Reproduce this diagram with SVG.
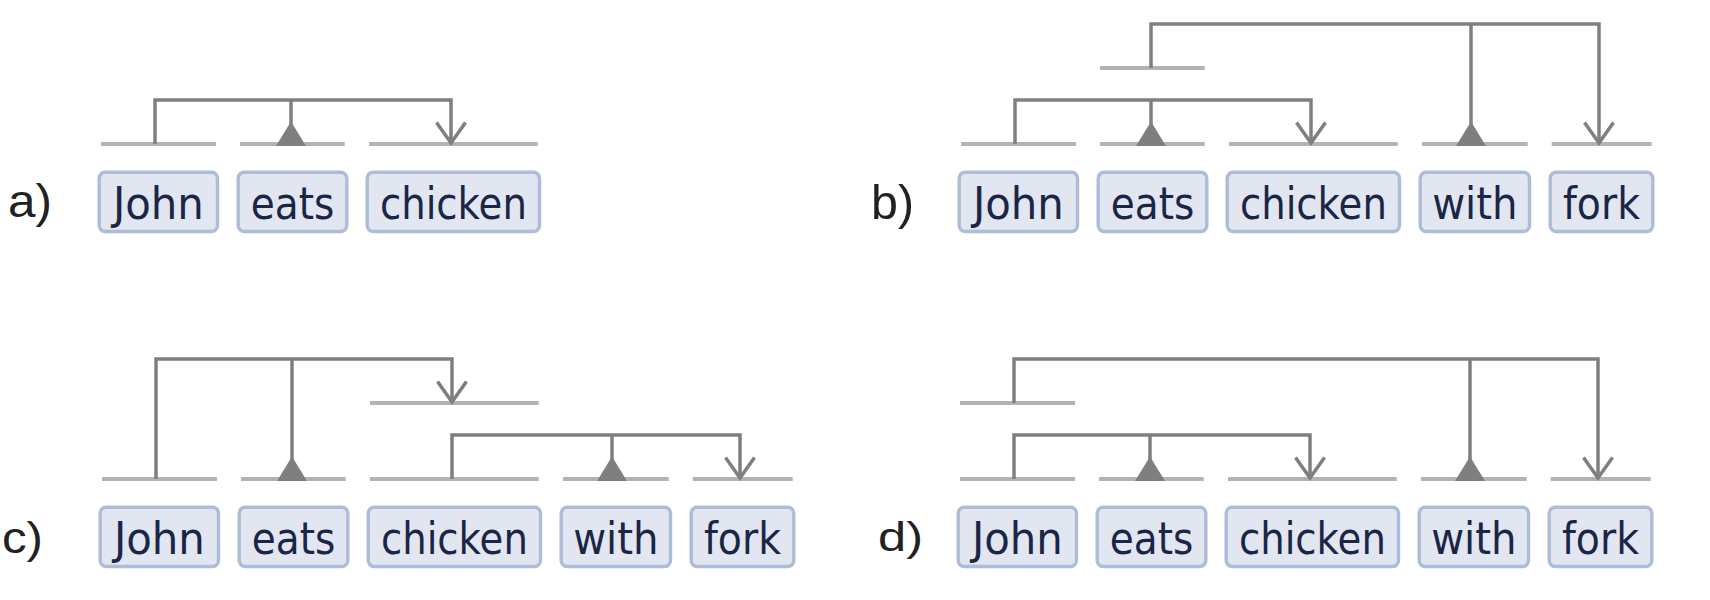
<svg xmlns="http://www.w3.org/2000/svg" xmlns:xlink="http://www.w3.org/1999/xlink" width="1710" height="600" viewBox="0 0 1710 600">
  <style>
    .box { fill: #e1e6f1; stroke: #adbdd8; stroke-width: 3.4; }
    .word { font-family: "DejaVu Sans", Verdana, sans-serif; font-size: 44px; fill: #1b2647; text-anchor: middle; }
    .lbl { font-family: "Liberation Sans", Arial, sans-serif; fill: #222222; }
    .slot { stroke: #b3b3b3; stroke-width: 4; fill: none; }
    .conn { stroke: #7f7f7f; stroke-width: 3.5; fill: none; stroke-linejoin: miter; stroke-linecap: butt; }
    .tri { fill: #7f7f7f; }
  </style>
  <defs>
    <path id="tri" class="tri" d="M-15,2 L0,-22.5 L15,2 Z"/>
    <path id="arr" class="conn" d="M-14.5,-20.5 L0,0 L14.5,-20.5"/>
  </defs>
  <rect width="1710" height="600" fill="#ffffff"/>

  <!-- panel labels -->
  <text class="lbl" x="8" y="217" font-size="46" textLength="44" lengthAdjust="spacingAndGlyphs">a)</text>
  <text class="lbl" x="871" y="218.5" font-size="48" textLength="43" lengthAdjust="spacingAndGlyphs">b)</text>
  <text class="lbl" x="2" y="552.5" font-size="44.5" textLength="41" lengthAdjust="spacingAndGlyphs">c)</text>
  <text class="lbl" x="878" y="551" font-size="41" textLength="45" lengthAdjust="spacingAndGlyphs">d)</text>

  <!-- nodes -->
  <g id="nodes">
    <g id="panel-a" transform="translate(0,0)">
      <g id="a-john"><line class="slot" x1="101" y1="144" x2="216" y2="144"/><rect class="box" x="99.2" y="172.3" width="118.3" height="59.2" rx="6"/><text class="word" x="158.4" y="219.3" textLength="91" lengthAdjust="spacingAndGlyphs">John</text></g>
      <g id="a-eats"><line class="slot" x1="240" y1="144" x2="344.7" y2="144"/><rect class="box" x="238.2" y="172.3" width="108.6" height="59.2" rx="6"/><text class="word" x="292.5" y="219.3" textLength="83.5" lengthAdjust="spacingAndGlyphs">eats</text></g>
      <g id="a-chicken"><line class="slot" x1="369" y1="144" x2="537.7" y2="144"/><rect class="box" x="367.2" y="172.3" width="172.3" height="59.2" rx="6"/><text class="word" x="453.4" y="219.3" textLength="147" lengthAdjust="spacingAndGlyphs">chicken</text></g>
    </g>
    <g id="panel-b" transform="translate(860,0)">
      <g id="b-john"><line class="slot" x1="101" y1="144" x2="216" y2="144"/><rect class="box" x="99.2" y="172.3" width="118.3" height="59.2" rx="6"/><text class="word" x="158.4" y="219.3" textLength="91" lengthAdjust="spacingAndGlyphs">John</text></g>
      <g id="b-eats"><line class="slot" x1="240" y1="144" x2="344.7" y2="144"/><rect class="box" x="238.2" y="172.3" width="108.6" height="59.2" rx="6"/><text class="word" x="292.5" y="219.3" textLength="83.5" lengthAdjust="spacingAndGlyphs">eats</text></g>
      <g id="b-chicken"><line class="slot" x1="369" y1="144" x2="537.7" y2="144"/><rect class="box" x="367.2" y="172.3" width="172.3" height="59.2" rx="6"/><text class="word" x="453.4" y="219.3" textLength="147" lengthAdjust="spacingAndGlyphs">chicken</text></g>
      <g id="b-with"><line class="slot" x1="562" y1="144" x2="667.7" y2="144"/><rect class="box" x="560.2" y="172.3" width="109.3" height="59.2" rx="6"/><text class="word" x="614.9" y="219.3" textLength="85.5" lengthAdjust="spacingAndGlyphs">with</text></g>
      <g id="b-fork"><line class="slot" x1="691.7" y1="144" x2="791.7" y2="144"/><rect class="box" x="690.2" y="172.3" width="102.6" height="59.2" rx="6"/><text class="word" x="741.5" y="219.3" textLength="77" lengthAdjust="spacingAndGlyphs">fork</text></g>
    </g>
    <g id="panel-c" transform="translate(1,335)">
      <g id="c-john"><line class="slot" x1="101" y1="144" x2="216" y2="144"/><rect class="box" x="99.2" y="172.3" width="118.3" height="59.2" rx="6"/><text class="word" x="158.4" y="219.3" textLength="91" lengthAdjust="spacingAndGlyphs">John</text></g>
      <g id="c-eats"><line class="slot" x1="240" y1="144" x2="344.7" y2="144"/><rect class="box" x="238.2" y="172.3" width="108.6" height="59.2" rx="6"/><text class="word" x="292.5" y="219.3" textLength="83.5" lengthAdjust="spacingAndGlyphs">eats</text></g>
      <g id="c-chicken"><line class="slot" x1="369" y1="144" x2="537.7" y2="144"/><rect class="box" x="367.2" y="172.3" width="172.3" height="59.2" rx="6"/><text class="word" x="453.4" y="219.3" textLength="147" lengthAdjust="spacingAndGlyphs">chicken</text></g>
      <g id="c-with"><line class="slot" x1="562" y1="144" x2="667.7" y2="144"/><rect class="box" x="560.2" y="172.3" width="109.3" height="59.2" rx="6"/><text class="word" x="614.9" y="219.3" textLength="85.5" lengthAdjust="spacingAndGlyphs">with</text></g>
      <g id="c-fork"><line class="slot" x1="691.7" y1="144" x2="791.7" y2="144"/><rect class="box" x="690.2" y="172.3" width="102.6" height="59.2" rx="6"/><text class="word" x="741.5" y="219.3" textLength="77" lengthAdjust="spacingAndGlyphs">fork</text></g>
    </g>
    <g id="panel-d" transform="translate(859,335)">
      <g id="d-john"><line class="slot" x1="101" y1="144" x2="216" y2="144"/><rect class="box" x="99.2" y="172.3" width="118.3" height="59.2" rx="6"/><text class="word" x="158.4" y="219.3" textLength="91" lengthAdjust="spacingAndGlyphs">John</text></g>
      <g id="d-eats"><line class="slot" x1="240" y1="144" x2="344.7" y2="144"/><rect class="box" x="238.2" y="172.3" width="108.6" height="59.2" rx="6"/><text class="word" x="292.5" y="219.3" textLength="83.5" lengthAdjust="spacingAndGlyphs">eats</text></g>
      <g id="d-chicken"><line class="slot" x1="369" y1="144" x2="537.7" y2="144"/><rect class="box" x="367.2" y="172.3" width="172.3" height="59.2" rx="6"/><text class="word" x="453.4" y="219.3" textLength="147" lengthAdjust="spacingAndGlyphs">chicken</text></g>
      <g id="d-with"><line class="slot" x1="562" y1="144" x2="667.7" y2="144"/><rect class="box" x="560.2" y="172.3" width="109.3" height="59.2" rx="6"/><text class="word" x="614.9" y="219.3" textLength="85.5" lengthAdjust="spacingAndGlyphs">with</text></g>
      <g id="d-fork"><line class="slot" x1="691.7" y1="144" x2="791.7" y2="144"/><rect class="box" x="690.2" y="172.3" width="102.6" height="59.2" rx="6"/><text class="word" x="741.5" y="219.3" textLength="77" lengthAdjust="spacingAndGlyphs">fork</text></g>
    </g>
  </g>

  <!-- connectors -->
  <g id="connectors">
    <g id="conn-a" transform="translate(0,0)">
      <path class="conn" d="M155,144 V100 H451 V143"/>
      <path class="conn" d="M291,100 V125"/>
      <use xlink:href="#tri" href="#tri" x="291" y="144"/>
      <use xlink:href="#arr" href="#arr" x="451" y="143"/>
    </g>
    <g id="conn-b" transform="translate(860,0)">
      <path class="conn" d="M155,144 V100 H451 V143"/>
      <path class="conn" d="M291,100 V125"/>
      <use xlink:href="#tri" href="#tri" x="291" y="144"/>
      <use xlink:href="#arr" href="#arr" x="451" y="143"/>
      <line class="slot" x1="240" y1="68" x2="344.7" y2="68"/>
      <path class="conn" d="M291,68 V24 H739 V143"/>
      <path class="conn" d="M611,24 V125"/>
      <use xlink:href="#tri" href="#tri" x="611" y="144"/>
      <use xlink:href="#arr" href="#arr" x="739" y="143"/>
    </g>
    <g id="conn-c" transform="translate(1,335)">
      <line class="slot" x1="369" y1="68" x2="537.7" y2="68"/>
      <path class="conn" d="M155,144 V24 H451 V67"/>
      <path class="conn" d="M291,24 V125"/>
      <use xlink:href="#tri" href="#tri" x="291" y="144"/>
      <use xlink:href="#arr" href="#arr" x="451" y="67"/>
      <path class="conn" d="M451,144 V100 H739 V143"/>
      <path class="conn" d="M611,100 V125"/>
      <use xlink:href="#tri" href="#tri" x="611" y="144"/>
      <use xlink:href="#arr" href="#arr" x="739" y="143"/>
    </g>
    <g id="conn-d" transform="translate(859,335)">
      <line class="slot" x1="101" y1="68" x2="216" y2="68"/>
      <path class="conn" d="M155,68 V24 H739 V143"/>
      <path class="conn" d="M611,24 V125"/>
      <use xlink:href="#tri" href="#tri" x="611" y="144"/>
      <use xlink:href="#arr" href="#arr" x="739" y="143"/>
      <path class="conn" d="M155,144 V100 H451 V143"/>
      <path class="conn" d="M291,100 V125"/>
      <use xlink:href="#tri" href="#tri" x="291" y="144"/>
      <use xlink:href="#arr" href="#arr" x="451" y="143"/>
    </g>
  </g>
</svg>
